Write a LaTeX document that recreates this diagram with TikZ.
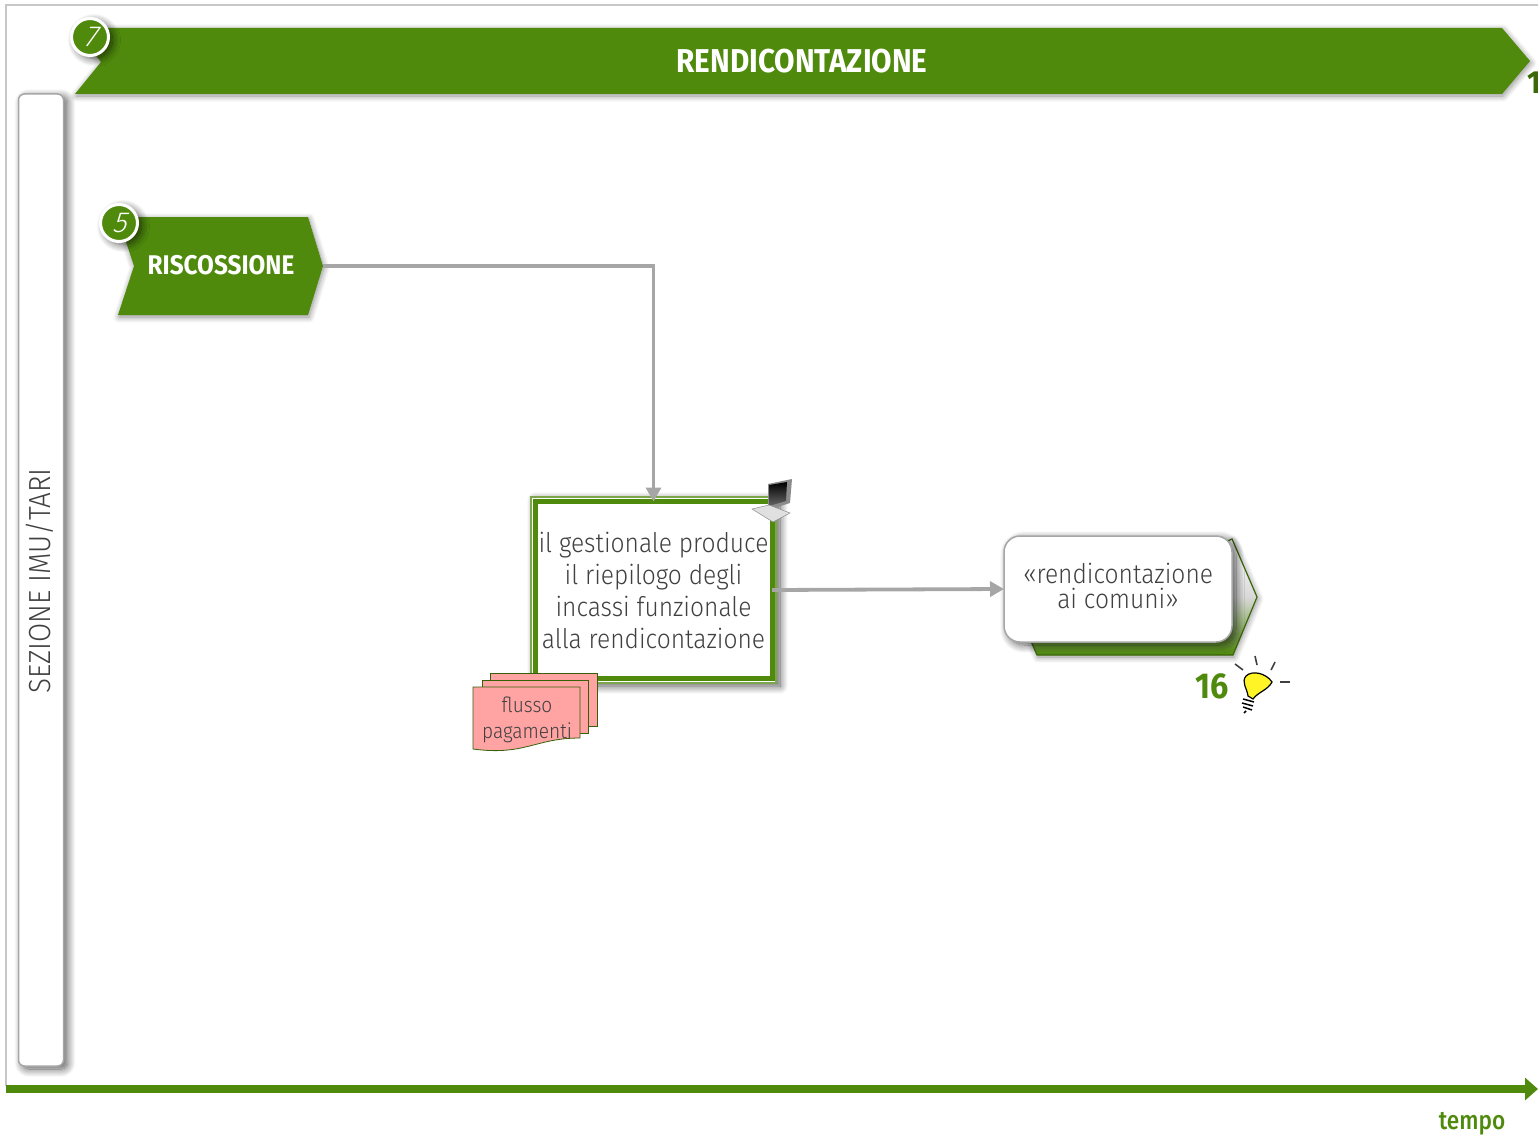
\documentclass[tikz,border=0pt]{standalone}
\usepackage{fontspec}
\setmainfont{Fira Sans Light}[FakeStretch=0.91]
\newfontfamily\badgefont{Fira Sans Light}[FakeSlant=0.3]
\newfontfamily\boldnarrow{Fira Sans}[UprightFont={* Bold},FakeStretch=0.9]
\newfontfamily\mediumnarrow{Fira Sans}[UprightFont={* Medium},FakeStretch=0.87]
\usepackage{tikz}
\usetikzlibrary{positioning}
\usetikzlibrary{arrows.meta}
\usetikzlibrary{shadows.blur}
\definecolor{erbgreen}{HTML}{4F8A0D}
\definecolor{erbgray}{HTML}{A6A6A6}
\definecolor{erbtext}{HTML}{404040}
\definecolor{erbpink}{HTML}{FFA3A3}
\tikzset{
  softshadow/.style={blur shadow={shadow xshift=4pt,shadow yshift=-3pt,shadow blur radius=8pt,shadow blur steps=14,shadow opacity=65}},
  lowshadow/.style={blur shadow={shadow xshift=1pt,shadow yshift=-2pt,shadow blur radius=6pt,shadow blur steps=10,shadow opacity=45}},
  banner/.style={fill=erbgreen,lowshadow},
  badge/.style={shape=circle,fill=erbgreen,draw=white,line width=3pt,minimum size=37pt,inner sep=0,text=white,font=\badgefont\fontsize{29}{29}\selectfont,softshadow},
  flow/.style={draw=erbgray,line width=3.8pt,-{Triangle[length=14pt,width=15pt]}},
  sheet/.style={draw=erbgreen!70!black,fill=erbpink,line width=.8pt},
  ray/.style={draw=black!75,line width=1.6pt}
}
\begin{document}
\begin{tikzpicture}[x=1pt,y=-1pt]
  \useasboundingbox (0,0) rectangle (1538,1137);
  \draw[black!22,line width=2pt] (6,1086) -- (6,5) -- (1538,5);
  % intestazione
  \path[banner] (75,28) -- (1502,28) -- (1530,61) -- (1502,94) -- (75,94) -- (101,62) -- cycle;
  \node[text=white,font=\boldnarrow\fontsize{33}{33}\selectfont] (titolo) at (802,61) {RENDICONTAZIONE};
  \node[badge] (badge7) at (90,37) {7};
  \node[text=erbgreen!75!black,font=\boldnarrow\fontsize{32}{32}\selectfont] (uno) at (1534,83) {1};
  % corsia
  \node[draw=erbgray,fill=white,line width=1.5pt,rounded corners=6pt,minimum width=45pt,minimum height=972pt,softshadow] (corsia) at (41,580) {};
  \node[rotate=90,text=erbtext,font=\fontsize{30.5}{30.5}\selectfont] (corsiatxt) at (40,581) {SEZIONE IMU/TARI};
  % riscossione
  \path[banner] (118,217) -- (308,217) -- (323,266) -- (308,315) -- (118,315) -- (134,266) -- cycle;
  \coordinate (risctip) at (323,266);
  \node[text=white,font=\boldnarrow\fontsize{27}{27}\selectfont] (risc) at (221,265) {RISCOSSIONE};
  \node[badge] (badge5) at (119,223) {5};
  % attivita
  \path[draw=erbgreen!75,fill=white,line width=1.2pt,softshadow] (531,497) rectangle (776,683);
  \node[draw=erbgreen,fill=white,line width=5pt,minimum width=237pt,minimum height=177pt,outer sep=0,inner sep=0,align=center,text=erbtext,font=\fontsize{27}{32}\selectfont] (gestionale) at (653.5,590) {il gestionale produce\\il riepilogo degli\\incassi funzionale\\alla rendicontazione};
  \path[draw=erbgreen!75!black,line width=1.2pt,top color=white,bottom color=erbgreen,middle color=black!15,lowshadow] (1232,539) -- (1257,597) -- (1233,655) -- (1037,655) -- (1030,639) -- cycle;
  \node[draw=erbgray,fill=white,line width=1.5pt,rounded corners=16pt,minimum width=228pt,minimum height=106pt,outer sep=0,inner sep=0,softshadow] (comuni) at (1118,589) {};
  \node[align=center,text=erbtext,font=\fontsize{27}{25}\selectfont] (comunitxt) at (1118,586) {«rendicontazione\\ai comuni»};
  \draw[flow] (risctip) -| (gestionale.north);
  \draw[flow] (gestionale.east) -- (comuni.west);
  % documento
  \path[sheet] (490,673) rectangle (597,726);
  \path[sheet] (482,680) rectangle (588,733);
  \path[sheet] (473,687) -- (580,687) -- (580,738) .. controls (535,738) and (525,756) .. (473,749) -- cycle;
  \node[text=erbtext,align=center,font=\fontsize{21}{26}\selectfont] (flusso) at (527,720) {flusso\\pagamenti};
  % computer
  \path[fill=black!45] (768,484) -- (792,479) -- (790,503) -- (768,510) -- cycle;
  \path[top color=black,bottom color=black!60] (769,485) -- (787,482) -- (786,501) -- (769,506) -- cycle;
  \path[fill=black!12,draw=black!45,line width=.5pt] (752,509) -- (769,505) -- (790,513) -- (773,522) -- cycle;
  % lampadina
  \node[text=erbgreen,font=\boldnarrow\fontsize{36}{36}\selectfont] (sedici) at (1212,686) {16};
  \path[draw=black,fill=yellow!85!white,line width=1.2pt] (1248,696) .. controls (1247,688) and (1241,682) .. (1246,676) .. controls (1252,670) and (1266,673) .. (1272,682) .. controls (1268,690) and (1258,692) .. (1253,699) -- cycle;
  \draw[black,line width=1.5pt] (1243,699) -- (1254,702) (1242,703) -- (1253,706) (1243,707) -- (1252,710) (1246,711) -- (1244,713);
  \draw[ray] (1235,664) -- (1243,670);
  \draw[ray] (1255,656) -- (1257,665);
  \draw[ray] (1275,662) -- (1271,670);
  \draw[ray] (1280,682) -- (1290,682);
  % asse
  \coordinate (assestart) at (6,1089);
  \coordinate (asseend) at (1538,1089);
  \draw[erbgreen,line width=8pt,-{Triangle[length=13pt,width=22pt]}] (assestart) -- (asseend);
  \node[text=erbgreen,inner sep=0,font=\mediumnarrow\fontsize{26}{26}\selectfont] (tempo) at (1472,1124) {tempo};
\end{tikzpicture}
\end{document}
